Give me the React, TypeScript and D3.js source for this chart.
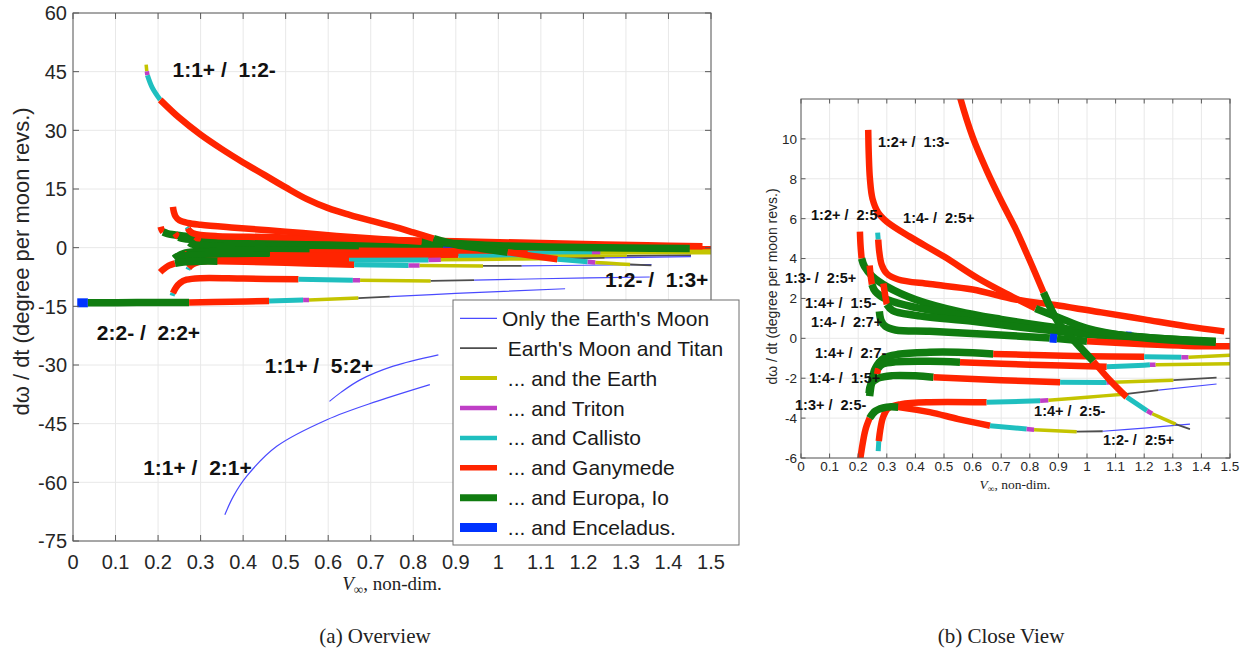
import React from 'react';
import * as d3 from 'd3';

type Pt = [number, number, number];

// Category (which moons are included) legend
const CATEGORY_LABELS = [
  "Only the Earth's Moon",
  " Earth's Moon and Titan",
  " ... and the Earth",
  " ... and Triton",
  " ... and Callisto",
  " ... and Ganymede",
  " ... and Europa, Io",
  " ... and Enceladus.",
];
const CATEGORY_COLORS = ['#4a4aff', '#4d4d4d', '#c4c400', '#bf3fc6', '#1fbfbf', '#ff2400', '#107c10', '#0033ff'];
const CATEGORY_WIDTHS = [1.2, 1.8, 3.5, 4.5, 5, 6.5, 7.5, 9];
const LEGEND_WIDTHS = [1.2, 1.8, 4, 4.5, 4.5, 5.5, 7, 9];

// Curves: [V_inf, d(omega)/dt, category of the segment starting at this point]
const curve_22m_22p: Pt[] = [
  [0.01, -14.1, 7], [0.035, -14.1, 6], [0.15, -14.05, 6], [0.273, -14.0, 5], [0.37, -13.85, 5],
  [0.461, -13.65, 4], [0.541, -13.4, 3], [0.555, -13.35, 2], [0.671, -12.9, 1], [0.745, -12.5, 0],
  [0.9, -11.7, 0], [1.157, -10.5, 0],
];
const curve_12m_13p: Pt[] = [
  [0.233, -12.3, 4], [0.235, -11.6, 5], [0.242, -10.2, 5], [0.252, -9.0, 5], [0.267, -8.2, 5],
  [0.3, -7.8, 5], [0.4, -7.9, 5], [0.53, -8.1, 4], [0.658, -8.3, 3], [0.675, -8.35, 2],
  [0.841, -8.5, 1], [0.943, -8.3, 0], [1.1, -7.95, 0], [1.356, -7.5, 0],
];
const curve_11p_21p: Pt[] = [
  [0.357, -68.3, 0], [0.377, -63.6, 0], [0.408, -58.5, 0], [0.479, -50.8, 0], [0.597, -44.0, 0],
  [0.714, -39.3, 0], [0.839, -35.0, 0],
];
const curve_11p_52p: Pt[] = [
  [0.603, -39.3, 0], [0.63, -37.0, 0], [0.675, -33.8, 0], [0.753, -30.3, 0], [0.859, -27.4, 0],
];
const curve_13m_25p: Pt[] = [
  [0.206, 5.35, 5], [0.208, 4.7, 5], [0.212, 4.0, 6], [0.222, 3.6, 6], [0.25, 3.1, 6], [0.3, 2.6, 6],
  [0.4, 1.95, 6], [0.55, 1.35, 6], [0.7, 0.95, 6], [0.85, 0.62, 6], [1.0, 0.35, 6], [1.2, 0.05, 6],
  [1.45, -0.15, 6],
];
const curve_14p_15m: Pt[] = [
  [0.24, 3.65, 5], [0.244, 3.1, 5], [0.248, 2.7, 6], [0.26, 2.35, 6], [0.3, 1.95, 6], [0.4, 1.55, 6],
  [0.55, 1.2, 6], [0.75, 0.75, 6], [0.95, 0.4, 6], [1.135, 0.12, 7], [1.155, 0.1, 6], [1.3, -0.05, 6],
  [1.45, -0.2, 6],
];
const curve_12p_25m: Pt[] = [
  [0.288, 2.75, 5], [0.295, 2.1, 5], [0.3, 1.7, 6], [0.32, 1.4, 6], [0.4, 1.15, 6], [0.6, 0.85, 6],
  [0.8, 0.5, 6], [1.0, 0.2, 6], [1.2, -0.05, 6], [1.45, -0.3, 6],
];
const curve_14m_27p: Pt[] = [
  [0.274, 1.35, 6], [0.28, 0.9, 6], [0.295, 0.6, 6], [0.33, 0.42, 6], [0.45, 0.35, 6], [0.65, 0.2, 6],
  [0.87, 0.02, 7], [0.895, -0.01, 6], [1.0, -0.15, 5], [1.2, -0.3, 5], [1.35, -0.38, 5], [1.5, -0.4, 5],
];
const curve_14p_27m: Pt[] = [
  [0.24, -2.9, 6], [0.247, -2.2, 6], [0.26, -1.5, 6], [0.29, -1.0, 6], [0.34, -0.8, 6], [0.45, -0.7, 6],
  [0.55, -0.7, 6], [0.672, -0.78, 5], [0.85, -0.85, 5], [1.0, -0.9, 5], [1.2, -0.92, 4],
  [1.33, -0.95, 3], [1.355, -0.95, 2], [1.5, -0.85, 2],
];
const curve_14p_27m_b: Pt[] = [
  [0.266, -1.8, 5], [0.27, -1.5, 6], [0.285, -1.3, 6], [0.33, -1.18, 6], [0.45, -1.15, 6],
  [0.556, -1.2, 5], [0.8, -1.32, 5], [1.069, -1.42, 4], [1.2, -1.35, 4], [1.22, -1.33, 3],
  [1.24, -1.32, 2], [1.5, -1.28, 2],
];
const curve_14m_15p: Pt[] = [
  [0.238, -2.75, 6], [0.245, -2.3, 6], [0.27, -2.0, 6], [0.32, -1.87, 6], [0.4, -1.88, 6],
  [0.463, -1.95, 5], [0.7, -2.1, 5], [0.906, -2.2, 4], [1.069, -2.21, 3], [1.09, -2.2, 2],
  [1.302, -2.1, 1], [1.453, -1.97, 1],
];
const curve_14p_25m: Pt[] = [
  [0.27, -5.65, 4], [0.272, -5.15, 5], [0.277, -4.6, 5], [0.287, -3.95, 5], [0.305, -3.5, 5],
  [0.35, -3.3, 5], [0.45, -3.2, 5], [0.649, -3.21, 4], [0.836, -3.13, 3], [0.865, -3.1, 2],
  [1.0, -2.95, 2], [1.139, -2.79, 1], [1.25, -2.6, 0], [1.453, -2.29, 0],
];
const curve_13p_25m: Pt[] = [
  [0.205, -6.3, 5], [0.212, -5.6, 5], [0.225, -4.6, 5], [0.24, -4.0, 6], [0.26, -3.65, 6],
  [0.3, -3.45, 6], [0.34, -3.45, 5], [0.45, -3.7, 5], [0.55, -4.05, 5], [0.661, -4.38, 4],
  [0.789, -4.55, 3], [0.815, -4.58, 2], [0.964, -4.68, 1], [1.055, -4.66, 0], [1.2, -4.5, 0],
  [1.36, -4.3, 0],
];
const curve_14m_25p: Pt[] = [
  [0.268, 5.3, 4], [0.27, 4.95, 5], [0.274, 4.3, 5], [0.282, 3.7, 5], [0.3, 3.25, 5], [0.34, 2.95, 5],
  [0.45, 2.72, 5], [0.6, 2.45, 5], [0.75, 1.95, 5], [0.9, 1.65, 5], [1.05, 1.3, 5], [1.2, 0.95, 5],
  [1.35, 0.6, 5], [1.48, 0.35, 5],
];
const curve_12p_13m: Pt[] = [
  [0.235, 10.45, 5], [0.237, 9.2, 5], [0.241, 8.0, 5], [0.25, 7.0, 5], [0.27, 6.3, 5], [0.3, 5.85, 5],
  [0.38, 5.1, 5], [0.5, 4.1, 5], [0.62, 3.0, 5], [0.73, 2.15, 5], [0.82, 1.5, 6], [0.9, 1.05, 6],
  [1.0, 0.5, 6], [1.15, 0.1, 6], [1.3, -0.1, 6], [1.45, -0.2, 6],
];
const curve_11p_12m: Pt[] = [
  [0.172, 46.8, 2], [0.1735, 45.1, 3], [0.175, 44.1, 4], [0.186, 41.0, 4], [0.205, 37.8, 5],
  [0.25, 33.2, 5], [0.3, 28.9, 5], [0.35, 25.2, 5], [0.4, 21.8, 5], [0.45, 18.6, 5], [0.5, 15.4, 5],
  [0.55, 12.4, 5], [0.6, 10.1, 5], [0.65, 8.4, 5], [0.7, 6.9, 5], [0.75, 5.5, 5], [0.8, 3.9, 5],
  [0.848, 2.3, 6], [0.9, 0.8, 6], [0.96, -0.2, 6], [1.022, -1.15, 5], [1.08, -2.1, 5],
  [1.139, -2.95, 4], [1.21, -3.63, 3], [1.228, -3.78, 2], [1.27, -4.05, 2], [1.31, -4.3, 1],
  [1.36, -4.55, 1],
];

const CURVES: Pt[][] = [
  curve_22m_22p, curve_12m_13p, curve_11p_21p, curve_11p_52p,
  curve_13m_25p, curve_14p_15m, curve_12p_25m, curve_14m_27p,
  curve_14p_27m, curve_14p_27m_b, curve_14m_15p, curve_14p_25m, curve_13p_25m,
  curve_14m_25p, curve_12p_13m, curve_11p_12m,
];

// Tick values
const X_TICKS = [0, 0.1, 0.2, 0.3, 0.4, 0.5, 0.6, 0.7, 0.8, 0.9, 1, 1.1, 1.2, 1.3, 1.4, 1.5];
const LEFT_Y_TICKS = [-75, -60, -45, -30, -15, 0, 15, 30, 45, 60];
const RIGHT_Y_TICKS = [-6, -4, -2, 0, 2, 4, 6, 8, 10];

// Annotation labels [text, x, y] in data coordinates
const LEFT_LABELS: [string, number, number][] = [
  ['1:1+ /  1:2-', 0.234, 43.6],
  ['2:2- /  2:2+', 0.056, -23.6],
  ['1:2- /  1:3+', 1.251, -10.06],
  ['1:1+ /  5:2+', 0.451, -32.05],
  ['1:1+ /  2:1+', 0.165, -58.1],
];
const RIGHT_LABELS: [string, number, number][] = [
  ['1:2+ /  1:3-', 0.269, 9.6],
  ['1:2+ /  2:5-', 0.035, 5.94],
  ['1:4- /  2:5+', 0.357, 5.79],
  ['1:3- /  2:5+', -0.056, 2.78],
  ['1:4+ /  1:5-', 0.014, 1.53],
  ['1:4- /  2:7+', 0.035, 0.57],
  ['1:4+ /  2:7-', 0.049, -0.98],
  ['1:4- /  1:5+', 0.028, -2.23],
  ['1:3+ /  2:5-', -0.021, -3.59],
  ['1:4+ /  2:5-', 0.815, -3.89],
  ['1:2- /  2:5+', 1.056, -5.34],
];

const SANS = 'Liberation Sans, Arial, Helvetica, sans-serif';
const SERIF = 'Liberation Serif, Times New Roman, serif';

function runsOf(pts: Pt[]) {
  const runs: { cat: number; pts: Pt[] }[] = [];
  for (let i = 0; i < pts.length - 1; i++) {
    const c = pts[i][2];
    const last = runs[runs.length - 1];
    if (last && last.cat === c) last.pts.push(pts[i + 1]);
    else runs.push({ cat: c, pts: [pts[i], pts[i + 1]] });
  }
  return runs;
}

const fmtX = (v: number) => String(Math.round(v * 10) / 10);

type PanelProps = {
  id: string;
  xDomain: [number, number];
  yDomain: [number, number];
  box: { x0: number; x1: number; y0: number; y1: number };
  yTicks: number[];
  tickLen: number;
  tickFont: number;
  xTickBaseline: number;
  yTickGap: number;
  labels: [string, number, number][];
  labelFont: number;
};

function Panel(p: PanelProps) {
  const xs = d3.scaleLinear().domain(p.xDomain).range([p.box.x0, p.box.x1]);
  const ys = d3.scaleLinear().domain(p.yDomain).range([p.box.y1, p.box.y0]);
  const line = d3
    .line<Pt>()
    .x((d) => xs(d[0]))
    .y((d) => ys(d[1]))
    .curve(d3.curveCatmullRom.alpha(0.5));
  const { x0, x1, y0, y1 } = p.box;
  return (
    <g>
      <defs>
        <clipPath id={p.id}>
          <rect x={x0} y={y0} width={x1 - x0} height={y1 - y0} />
        </clipPath>
      </defs>
      <rect x={x0} y={y0} width={x1 - x0} height={y1 - y0} fill="#fff" />
      {X_TICKS.map((t) => (
        <line key={'gx' + t} x1={xs(t)} x2={xs(t)} y1={y0} y2={y1} stroke="#e8e8e8" strokeWidth={1} />
      ))}
      {p.yTicks.map((t) => (
        <line key={'gy' + t} x1={x0} x2={x1} y1={ys(t)} y2={ys(t)} stroke="#e8e8e8" strokeWidth={1} />
      ))}
      <g clipPath={`url(#${p.id})`}>
        {CURVES.map((c, ci) =>
          runsOf(c).map((r, ri) => (
            <path
              key={ci + '-' + ri}
              d={line(r.pts) || ''}
              fill="none"
              stroke={CATEGORY_COLORS[r.cat]}
              strokeWidth={CATEGORY_WIDTHS[r.cat]}
              strokeLinecap="butt"
              strokeLinejoin="round"
            />
          ))
        )}
      </g>
      <rect x={x0} y={y0} width={x1 - x0} height={y1 - y0} fill="none" stroke="#5a5a5a" strokeWidth={1} />
      {X_TICKS.map((t) => (
        <g key={'tx' + t}>
          <line x1={xs(t)} x2={xs(t)} y1={y1} y2={y1 - p.tickLen} stroke="#5a5a5a" />
          <line x1={xs(t)} x2={xs(t)} y1={y0} y2={y0 + p.tickLen} stroke="#5a5a5a" />
          <text x={xs(t)} y={p.xTickBaseline} textAnchor="middle" fontFamily={SANS} fontSize={p.tickFont} fill="#262626">
            {fmtX(t)}
          </text>
        </g>
      ))}
      {p.yTicks.map((t) => (
        <g key={'ty' + t}>
          <line x1={x0} x2={x0 + p.tickLen} y1={ys(t)} y2={ys(t)} stroke="#5a5a5a" />
          <line x1={x1} x2={x1 - p.tickLen} y1={ys(t)} y2={ys(t)} stroke="#5a5a5a" />
          <text x={x0 - p.yTickGap} y={ys(t)} dy="0.36em" textAnchor="end" fontFamily={SANS} fontSize={p.tickFont} fill="#262626">
            {t}
          </text>
        </g>
      ))}
      {p.labels.map(([s, lx, ly]) => (
        <text
          key={s + lx}
          x={xs(lx)}
          y={ys(ly)}
          fontFamily={SANS}
          fontWeight="bold"
          fontSize={p.labelFont}
          fill="#111"
          style={{ whiteSpace: 'pre' }}
        >
          {s}
        </text>
      ))}
    </g>
  );
}

function XLabel({ x, y, size }: { x: number; y: number; size: number }) {
  return (
    <text x={x} y={y} textAnchor="middle" fontFamily={SERIF} fontSize={size} fill="#222">
      <tspan fontStyle="italic">V</tspan>
      <tspan fontSize={size * 0.7} dy={size * 0.2}>∞</tspan>
      <tspan dy={-size * 0.2}>, non-dim.</tspan>
    </text>
  );
}

export default function App() {
  const legendX = 453;
  const legendY = 300;
  const rowH = 29.9;
  return (
    <svg
      width={1254}
      height={656}
      viewBox="0 0 1254 656"
      style={{ position: 'absolute', left: 0, top: 0, background: '#fff' }}
    >
      <rect x={0} y={0} width={1254} height={656} fill="#fff" />
      <Panel
        id="clipL"
        xDomain={[0, 1.5]}
        yDomain={[-75, 60]}
        box={{ x0: 73, x1: 711, y0: 13, y1: 541 }}
        yTicks={LEFT_Y_TICKS}
        tickLen={6}
        tickFont={20}
        xTickBaseline={569}
        yTickGap={6}
        labels={LEFT_LABELS}
        labelFont={21}
      />
      <text
        transform="translate(29,261.5) rotate(-90)"
        textAnchor="middle"
        fontFamily={SANS}
        fontSize={22}
        fill="#262626"
      >
        dω / dt (degree per moon revs.)
      </text>
      <XLabel x={392} y={590} size={19} />

      <Panel
        id="clipR"
        xDomain={[0, 1.5]}
        yDomain={[-6, 12]}
        box={{ x0: 801, x1: 1230, y0: 99, y1: 458 }}
        yTicks={RIGHT_Y_TICKS}
        tickLen={4.5}
        tickFont={13.5}
        xTickBaseline={471}
        yTickGap={4}
        labels={RIGHT_LABELS}
        labelFont={14.5}
      />
      <text
        transform="translate(777,286.5) rotate(-90)"
        textAnchor="middle"
        fontFamily={SANS}
        fontSize={14}
        fill="#262626"
      >
        dω / dt (degree per moon revs.)
      </text>
      <XLabel x={1015} y={489} size={13.5} />

      {/* legend */}
      <g>
        <rect x={legendX} y={legendY} width={286} height={245} fill="#fff" stroke="#6e6e6e" strokeWidth={1} />
        {CATEGORY_LABELS.map((lab, i) => {
          const cy = legendY + 18.3 + i * rowH;
          return (
            <g key={lab}>
              <line
                x1={legendX + 7}
                x2={legendX + 44}
                y1={cy}
                y2={cy}
                stroke={CATEGORY_COLORS[i]}
                strokeWidth={LEGEND_WIDTHS[i]}
              />
              <text
                x={legendX + 49}
                y={cy}
                dy="0.36em"
                fontFamily={SANS}
                fontSize={21}
                fill="#1a1a1a"
                style={{ whiteSpace: 'pre' }}
              >
                {lab}
              </text>
            </g>
          );
        })}
      </g>

      <text x={375} y={643} textAnchor="middle" fontFamily={SERIF} fontSize={21} fill="#222">
        (a) Overview
      </text>
      <text x={1001} y={643} textAnchor="middle" fontFamily={SERIF} fontSize={21} fill="#222">
        (b) Close View
      </text>
    </svg>
  );
}
